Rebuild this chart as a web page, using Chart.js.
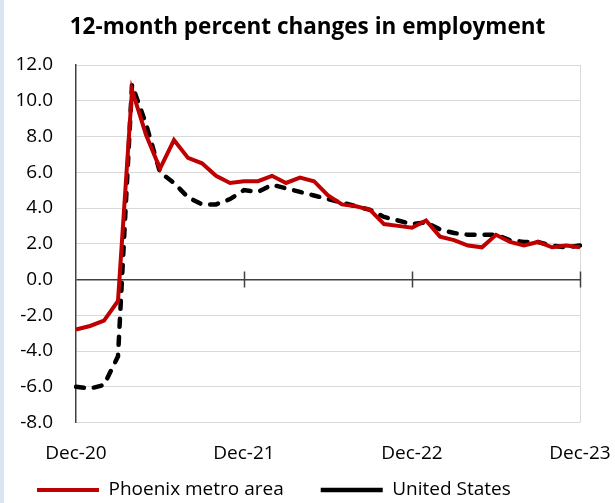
<!DOCTYPE html>
<html>
<head>
<meta charset="utf-8">
<script src="https://cdn.jsdelivr.net/npm/chart.js@4.4.1/dist/chart.umd.min.js"></script>
<style>
  html, body { margin: 0; padding: 0; background: #fff; }
  #wrap { position: relative; width: 615px; height: 503px; }
  #edge { position: absolute; left: 0; top: 0; width: 4px; height: 503px; background: #dbe5f1; }
</style>
</head>
<body>
<div id="wrap">
  <canvas id="empChart" width="615" height="503"></canvas>
  <div id="edge"></div>
</div>
<script>
// === Data ===
const MONTHS = [
  'Dec-20', 'Jan-21', 'Feb-21', 'Mar-21', 'Apr-21', 'May-21', 'Jun-21', 'Jul-21', 'Aug-21', 'Sep-21', 'Oct-21', 'Nov-21',
  'Dec-21', 'Jan-22', 'Feb-22', 'Mar-22', 'Apr-22', 'May-22', 'Jun-22', 'Jul-22', 'Aug-22', 'Sep-22', 'Oct-22', 'Nov-22',
  'Dec-22', 'Jan-23', 'Feb-23', 'Mar-23', 'Apr-23', 'May-23', 'Jun-23', 'Jul-23', 'Aug-23', 'Sep-23', 'Oct-23', 'Nov-23',
  'Dec-23'
];
const PHOENIX = [
  -2.8, -2.6, -2.3, -1.2, 10.6, 8.1, 6.2, 7.8, 6.8, 6.5, 5.8, 5.4,
  5.5, 5.5, 5.8, 5.4, 5.7, 5.5, 4.7, 4.2, 4.1, 3.9, 3.1, 3.0,
  2.9, 3.3, 2.4, 2.2, 1.9, 1.8, 2.5, 2.1, 1.9, 2.1, 1.8, 1.9,
  1.8
];
const US = [
  -6.0, -6.1, -5.9, -4.3, 10.9, 8.7, 6.0, 5.4, 4.6, 4.2, 4.2, 4.5,
  5.0, 4.9, 5.3, 5.1, 4.9, 4.7, 4.5, 4.3, 4.1, 3.9, 3.5, 3.3,
  3.1, 3.2, 2.8, 2.6, 2.5, 2.5, 2.5, 2.2, 2.1, 2.1, 1.9, 1.8,
  1.9
];
const X_TICKS = ['Dec-20', 'Dec-21', 'Dec-22', 'Dec-23'];
const Y_MIN = -8, Y_MAX = 12, Y_STEP = 2;

const FONT = "'Open Sans', sans-serif";
const RED = '#c00000';
const GRID = '#d9d9d9';
const AXIS = '#404040';

// legend: gap between entries; its row height is fontSize + gap + 10
const LEGEND_GAP = 37;
const LEGEND_FONT = 19;
const TICK_FONT = 19;
const PLOT_BOTTOM = 422.5;
const PAD_BOTTOM = -6.5; // legend text sits 19.5px above the box bottom
const X_AXIS_H = 503 - PAD_BOTTOM - (LEGEND_FONT + LEGEND_GAP + 10) - PLOT_BOTTOM;
const X_LABEL_DROP = 31.5; // label centre below the plot bottom

// light box edge on the right plus the little crossing ticks on the zero line
const frame = {
  id: 'frame',
  beforeDatasetsDraw(chart) {
    const { ctx, chartArea: a, scales } = chart;
    const y0 = scales.y.getPixelForValue(0);
    ctx.save();
    ctx.strokeStyle = GRID;
    ctx.lineWidth = 1;
    ctx.beginPath();
    ctx.moveTo(a.right + 0.5, a.top);
    ctx.lineTo(a.right + 0.5, a.bottom);
    ctx.stroke();
    ctx.strokeStyle = AXIS;
    ctx.lineWidth = 1.5;
    ctx.beginPath();
    MONTHS.forEach((m, i) => {
      if (i === 0 || !X_TICKS.includes(m)) return;
      const x = Math.round(scales.x.getPixelForValue(i)) + 0.5;
      ctx.moveTo(x, y0 - 8);
      ctx.lineTo(x, y0 + 8);
    });
    ctx.stroke();
    ctx.restore();
  }
};

new Chart(document.getElementById('empChart'), {
  type: 'line',
  data: {
    labels: MONTHS,
    datasets: [{
      label: 'Phoenix metro area',
      data: PHOENIX,
      borderColor: RED,
      backgroundColor: RED,
      borderWidth: 4,
      pointRadius: 0,
      tension: 0
    }, {
      label: 'United States',
      data: US,
      borderColor: '#000',
      backgroundColor: '#000',
      borderWidth: 4.5,
      borderDash: [8, 10],
      borderCapStyle: 'round',
      pointRadius: 0,
      tension: 0
    }]
  },
  options: {
    responsive: false,
    animation: false,
    layout: { padding: { top: 4, right: 0, left: 0, bottom: PAD_BOTTOM } },
    scales: {
      x: {
        type: 'category',
        grid: { display: false, drawTicks: false },
        border: { display: false },
        afterFit: s => {
          s.height = X_AXIS_H;
          s.paddingLeft = 0;
          s.paddingRight = 35;
        },
        ticks: {
          autoSkip: false,
          maxRotation: 0,
          // mirrored labels are not clipped to the (short) axis box;
          // they grow upward, so a negative padding pushes them back below
          mirror: true,
          padding: -(X_LABEL_DROP + TICK_FONT * 0.6),
          color: '#000',
          font: { family: FONT, size: TICK_FONT },
          callback: (v, i) => X_TICKS.includes(MONTHS[i]) ? MONTHS[i] : null
        }
      },
      y: {
        min: Y_MIN,
        max: Y_MAX,
        afterFit: s => { s.width = 76; },
        border: { display: true, color: AXIS, width: 1.5 },
        grid: {
          drawTicks: false,
          color: c => c.tick.value === 0 ? AXIS : GRID,
          lineWidth: c => c.tick.value === 0 ? 1.5 : 1
        },
        ticks: {
          stepSize: Y_STEP,
          padding: 23,
          color: '#000',
          font: { family: FONT, size: TICK_FONT },
          callback: v => v.toFixed(1)
        }
      }
    },
    plugins: {
      title: {
        display: true,
        text: '12-month percent changes in employment',
        color: '#000',
        font: { family: FONT, size: 22.5, weight: 'bold' },
        padding: { top: 10, bottom: 24 }
      },
      legend: {
        position: 'bottom',
        align: 'start',
        labels: {
          usePointStyle: true,
          pointStyle: 'line',
          pointStyleWidth: 62,
          boxWidth: 62,
          boxHeight: 12,
          padding: LEGEND_GAP,
          color: '#000',
          font: { family: FONT, size: LEGEND_FONT }
        }
      },
      tooltip: { enabled: false }
    }
  },
  plugins: [frame]
});
</script>
</body>
</html>
